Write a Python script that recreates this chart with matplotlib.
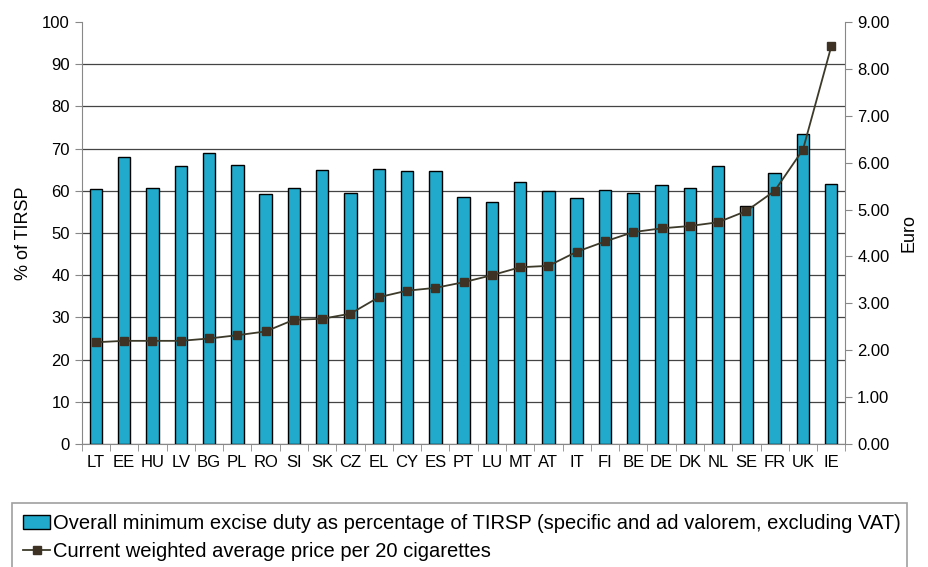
import numpy as np
import matplotlib.pyplot as plt
from matplotlib.ticker import FixedLocator, FormatStrFormatter

countries = ["LT", "EE", "HU", "LV", "BG", "PL", "RO", "SI", "SK", "CZ", "EL", "CY", "ES", "PT",
             "LU", "MT", "AT", "IT", "FI", "BE", "DE", "DK", "NL", "SE", "FR", "UK", "IE"]
excise_pct = [60.5, 68.0, 60.7, 66.0, 69.0, 66.2, 59.3, 60.7, 65.0, 59.6, 65.1, 64.6, 64.7, 58.6,
              57.3, 62.0, 60.0, 58.4, 60.2, 59.5, 61.5, 60.7, 66.0, 56.5, 64.3, 73.5, 61.6]
price_eur = [2.17, 2.20, 2.20, 2.20, 2.25, 2.32, 2.40, 2.65, 2.67, 2.78, 3.13, 3.27, 3.33, 3.45,
             3.60, 3.77, 3.80, 4.10, 4.32, 4.52, 4.60, 4.65, 4.73, 4.97, 5.40, 6.28, 8.48]

plt.rcParams['font.family'] = ['Liberation Sans', 'DejaVu Sans']

fig = plt.figure(figsize=(9.29, 5.67), dpi=100)
ax = fig.add_axes([0.088, 0.217, 0.822, 0.744])
x = np.arange(len(countries))

bars = ax.bar(x, excise_pct, width=0.44, color='#21aacb', edgecolor='black', linewidth=1, zorder=3,
              label='Overall minimum excise duty as percentage of TIRSP (specific and ad valorem, excluding VAT)')
ax.set_xlim(-0.5, len(countries) - 0.5)
ax.set_ylim(0, 100)
ax.set_yticks(np.arange(0, 101, 10))
ax.yaxis.grid(True, color='#444444', linewidth=0.9, zorder=0)
ax.get_ygridlines()[-1].set_visible(False)  # no line at 100
ax.set_axisbelow(True)
ax.set_xticks(x)
ax.set_xticklabels(countries, fontsize=12)
ax.xaxis.set_minor_locator(FixedLocator(np.arange(-0.5, len(countries), 1)))
ax.tick_params(axis='x', which='major', length=0, pad=8)
ax.tick_params(axis='x', which='minor', length=5, color='#888888')
ax.tick_params(axis='y', labelsize=12, length=5, color='#888888')
ax.set_ylabel('% of TIRSP', fontsize=13, labelpad=7)
for s in ['top', 'right']:
    ax.spines[s].set_visible(False)
for s in ['left', 'bottom']:
    ax.spines[s].set_color('#888888')

ax2 = ax.twinx()
line, = ax2.plot(x, price_eur, color='#3d3a2a', linewidth=1.3, marker='s', markersize=6,
                 markerfacecolor='#3d3224', markeredgecolor='#3d3224', zorder=5,
                 label='Current weighted average price per 20 cigarettes')
ax2.set_ylim(0, 9)
ax2.set_yticks(np.arange(0, 9.01, 1))
ax2.yaxis.set_major_formatter(FormatStrFormatter('%.2f'))
ax2.tick_params(axis='y', labelsize=12, length=5, color='#888888')
ax2.set_ylabel('Euro', fontsize=13, labelpad=8)
for s in ['top', 'left', 'bottom']:
    ax2.spines[s].set_visible(False)
ax2.spines['right'].set_color('#888888')

leg = fig.legend(handles=[bars, line], loc='upper left', bbox_to_anchor=(0.013, 0.0, 0.963, 0.1129),
                 mode='expand', fontsize=14.5, frameon=True, fancybox=False, edgecolor='#888888',
                 handlelength=1.35, handletextpad=0.15, borderaxespad=0, borderpad=0.55,
                 labelspacing=0.45)
leg.get_frame().set_linewidth(1.2)

fig.savefig('out.png', dpi=100)
